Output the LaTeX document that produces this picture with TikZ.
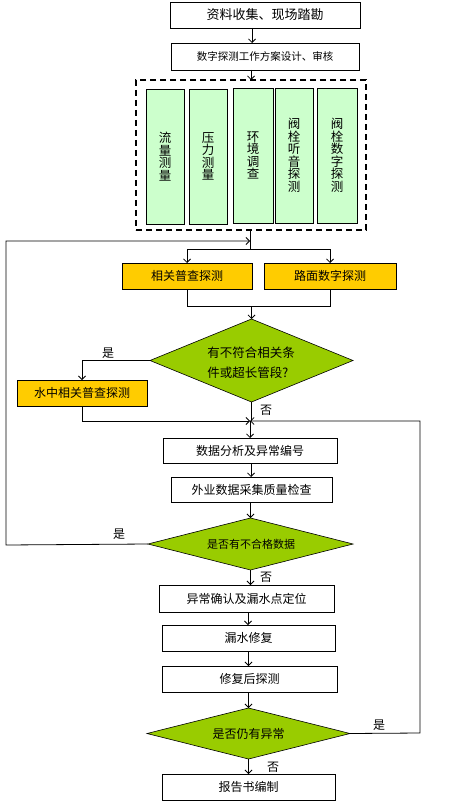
\documentclass[tikz,border=0pt]{standalone}
\usepackage{fontspec}
\setmainfont{Noto Sans CJK SC}
\usetikzlibrary{shapes.geometric,arrows.meta}
\definecolor{lgreen}{HTML}{CCFFCC}
\definecolor{orng}{HTML}{FFCC00}
\definecolor{dgreen}{HTML}{99CC00}
\begin{document}
\begin{tikzpicture}[x=1pt,y=-1pt,
  every node/.style={inner sep=0pt,outer sep=0pt},
  box/.style={draw=black,line width=0.8pt,fill=white,font=\fontsize{12}{14}\selectfont},
  obox/.style={box,fill=orng},
  vbox/.style={draw=black,line width=0.8pt,fill=lgreen,minimum width=38pt,minimum height=135pt,align=center,font=\fontsize{12.5}{12.5}\selectfont},
  dia/.style={draw=black,line width=0.6pt,fill=dgreen,diamond},
  lbl/.style={font=\fontsize{12}{14}\selectfont},
  conn/.style={line width=0.8pt},
  arr/.style={conn,-{Straight Barb[length=3.5pt,width=7pt]}}
]
\useasboundingbox (0,0) rectangle (466,802);
% top boxes
\node[box,minimum width=190pt,minimum height=26pt,font=\fontsize{13}{15}\selectfont] (b1) at (265,15) {资料收集、现场踏勘};
\node[box,minimum width=188pt,minimum height=27pt,font=\fontsize{10.5}{12}\selectfont] (b2) at (265,56.5) {数字探测工作方案设计、审核};
% dashed frame
\node[draw=black,line width=1.6pt,dash pattern=on 6pt off 4pt,minimum width=230pt,minimum height=150pt] (dash) at (251,155) {};
\node[vbox] (v1) at (165,156.5) {流\\量\\测\\量};
\node[vbox] (v2) at (208,156.5) {压\\力\\测\\量};
\node[vbox,minimum width=40pt] (v3) at (253,155.5) {环\\境\\调\\查};
\node[vbox] (v4) at (294,155.5) {阀\\栓\\听\\音\\探\\测};
\node[vbox,minimum width=40pt] (v5) at (337,155.5) {阀\\栓\\数\\字\\探\\测};
% orange boxes
\node[obox,minimum width=130pt,minimum height=26pt] (o1) at (187,276) {相关普查探测};
\node[obox,minimum width=132pt,minimum height=26pt] (o2) at (330,276) {路面数字探测};
% diamond 1
\node[dia,minimum width=203pt,minimum height=83pt] (d1) at (251.5,360.5) {};
\node[lbl,align=left,font=\fontsize{12.5}{20}\selectfont] (d1t) at (251,363) {有不符合相关条\\件或超长管段?};
\node[obox,minimum width=130pt,minimum height=26pt] (w) at (82,393) {水中相关普查探测};
% middle boxes
\node[box,minimum width=174pt,minimum height=25pt] (b3) at (250,450.5) {数据分析及异常编号};
\node[box,minimum width=161pt,minimum height=25pt] (b4) at (251.5,489.5) {外业数据采集质量检查};
\node[dia,minimum width=205pt,minimum height=52pt] (d2) at (250.5,544) {};
\node[lbl,font=\fontsize{11}{13}\selectfont] (d2t) at (251,544) {是否有不合格数据};
\node[box,minimum width=175pt,minimum height=27pt] (b5) at (246.5,598.5) {异常确认及漏水点定位};
\node[box,minimum width=173pt,minimum height=26pt] (b6) at (248.5,638) {漏水修复};
\node[box,minimum width=175pt,minimum height=26pt] (b7) at (249.5,679) {修复后探测};
\node[dia,minimum width=203pt,minimum height=51pt] (d3) at (248.5,733.5) {};
\node[lbl] (d3t) at (248.5,734) {是否仍有异常};
\node[box,minimum width=173pt,minimum height=26pt] (b8) at (248.5,787) {报告书编制};
% coordinates
\coordinate (j1) at (250,249);
\coordinate (fb) at (250,241);
\coordinate (j2) at (251.5,306);
\coordinate (j3) at (250,421);
\coordinate (lc) at (6,545);
\coordinate (rc) at (420,733);
% connectors
\draw[arr] (b1.south -| 252,0) -- (b2.north -| 252,0);
\draw[arr] (b2.south -| 251,0) -- (dash.north -| 251,0);
\draw[conn] (dash.south -| j1) -- (j1);
\draw[conn] (o1.north |- j1) -- (o2.north |- j1);
\draw[arr] (o1.north |- j1) -- (o1.north);
\draw[arr] (o2.north |- j1) -- (o2.north);
\draw[arr] (d2.west) -- (lc) -- (lc |- fb) -- (fb);
\draw[conn] (o1.south) -- (o1.south |- j2) -- (o2.south |- j2) -- (o2.south);
\draw[arr] (j2) -- (d1.north);
\draw[arr] (d1.west) -- (d1.west -| w.north) -- (w.north);
\draw[arr] (w.south) -- (w.south |- j3) -- (j3);
\draw[conn] (d1.south) -- (d1.south |- j3);
\draw[arr] (d3.east) -- (rc) -- (rc |- j3) -- (j3);
\draw[arr] (j3) -- (b3.north -| j3);
\draw[arr] (b3.south -| 251,0) -- (b4.north -| 251,0);
\draw[arr] (b4.south -| 250.5,0) -- (d2.north);
\draw[arr] (d2.south) -- (b5.north -| d2.south);
\draw[arr] (b5.south -| 248,0) -- (b6.north -| 248,0);
\draw[arr] (b6.south -| 248.5,0) -- (b7.north -| 248.5,0);
\draw[arr] (b7.south -| 248.5,0) -- (d3.north);
\draw[arr] (d3.south) -- (b8.north -| d3.south);
% labels
\node[lbl] (l1) at (108,353) {是};
\node[lbl] (l2) at (266,410) {否};
\node[lbl] (l3) at (119,534) {是};
\node[lbl] (l4) at (266,577) {否};
\node[lbl] (l5) at (379,725) {是};
\node[lbl] (l6) at (273,767) {否};
\end{tikzpicture}
\end{document}
